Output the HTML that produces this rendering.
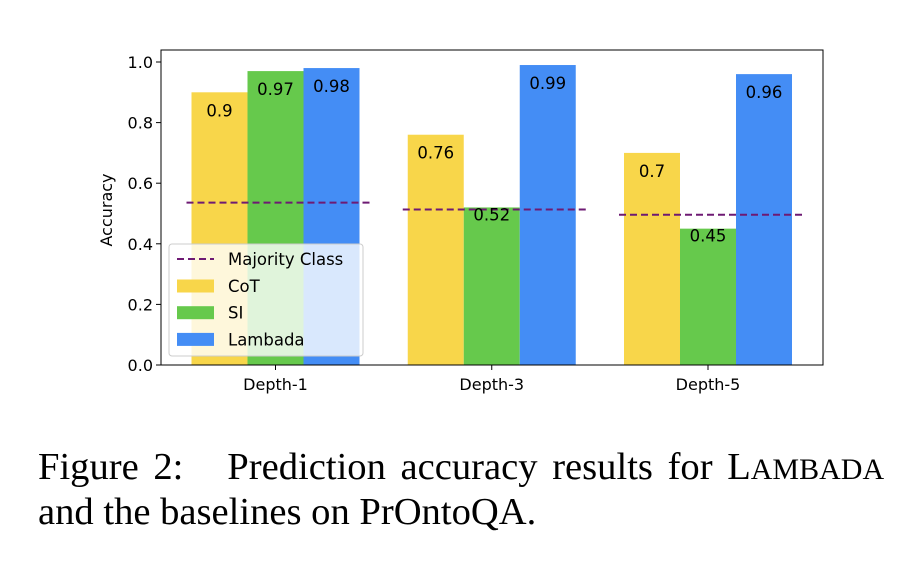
<!DOCTYPE html>
<html><head><meta charset="utf-8">
<style>
html,body{margin:0;padding:0;background:#fff;width:920px;height:572px;overflow:hidden}
svg text{font-family:"DejaVu Sans","Liberation Sans",sans-serif}
.cap{position:absolute;left:38px;font-family:"Liberation Serif",serif;font-size:38.6px;line-height:40px;color:#000;white-space:nowrap}
</style></head>
<body>
<svg id="chart" width="920" height="572" style="position:absolute;left:0;top:0"></svg>
<div class="cap" style="top:447px;word-spacing:5px">Figure 2:&nbsp;&nbsp; Prediction accuracy results for L<span style="font-size:30px">AMBADA</span></div>
<div class="cap" style="top:492px">and the baselines on PrOntoQA.</div>
<script>
const categories = ["Depth-1","Depth-3","Depth-5"];
const cotValues = [0.9, 0.76, 0.7];
const siValues = [0.97, 0.52, 0.45];
const lambadaValues = [0.98, 0.99, 0.96];
const majorityValues = [0.536, 0.513, 0.496];
const yTicks = [0.0, 0.2, 0.4, 0.6, 0.8, 1.0];
const seriesNames = ["CoT","SI","Lambada"];

const NS = "http://www.w3.org/2000/svg";
const svg = document.getElementById("chart");
const L = 161, R = 823, T = 50, B = 365;
const colors = ["#f8d64a","#66c94c","#448df5"];
function y(v){ return B - v * 303; }
function xc(i){ return 275.5 + i * 216.25; }
const barW = 56;
function mk(tag, attrs, parent){ const e = document.createElementNS(NS, tag); for (const k in attrs) e.setAttribute(k, attrs[k]); (parent||svg).appendChild(e); return e; }

const series = [cotValues, siValues, lambadaValues];
series.forEach((vals, s) => {
  vals.forEach((v, i) => {
    const x0 = xc(i) + (s - 1.5) * barW;
    const r = mk("rect", {x: x0, y: y(v), width: barW, height: B - y(v), fill: colors[s]});
    
    
  });
});
majorityValues.forEach((v, i) => {
  const l = mk("line", {x1: xc(i) - 89, x2: xc(i) + 94, y1: y(v), y2: y(v), stroke: "#6e1a73", "stroke-width": 2, "stroke-dasharray": "7,4"});
  
  
});
series.forEach((vals, s) => {
  vals.forEach((v, i) => {
    const x0 = xc(i) + (s - 1.5) * barW + barW / 2;
    const off = v < 0.6 ? 13 : 24;
    const t = mk("text", {x: x0, y: y(v) + off, "text-anchor": "middle", "font-size": 16.5, fill: "#000"});
    t.textContent = String(v);
    
    
  });
});
const fr = mk("rect", {x: L, y: T, width: R - L, height: B - T, fill: "none", stroke: "#000", "stroke-width": 1});


yTicks.forEach(v => {
  mk("line", {x1: L - 5, x2: L, y1: y(v), y2: y(v), stroke: "#000"});
  const t = mk("text", {x: L - 8, y: y(v) + 6, "text-anchor": "end", "font-size": 16, fill: "#000"});
  t.textContent = v.toFixed(1);
  
  
});
categories.forEach((c, i) => {
  mk("line", {x1: xc(i), x2: xc(i), y1: B, y2: B + 5, stroke: "#000"});
  const t = mk("text", {x: xc(i), y: B + 25, "text-anchor": "middle", "font-size": 16, fill: "#000"});
  t.textContent = c;
  
  
});
const yl = mk("text", {x: 0, y: 0, "text-anchor": "middle", "font-size": 16, fill: "#000", transform: "translate(112,210) rotate(-90)"});
yl.textContent = "Accuracy";


const lg = mk("g", {});


mk("rect", {x: 169, y: 244, width: 194, height: 112, rx: 3, fill: "rgba(255,255,255,0.8)", stroke: "#ccc"}, lg);
mk("line", {x1: 177, x2: 214, y1: 259, y2: 259, stroke: "#6e1a73", "stroke-width": 2, "stroke-dasharray": "7,4"}, lg);
const t0 = mk("text", {x: 228, y: 265, "font-size": 16.5, fill: "#000"}, lg);
t0.textContent = "Majority Class";


seriesNames.forEach((n, s) => {
  const cy = 286 + s * 26.7;
  mk("rect", {x: 177, y: cy - 6.5, width: 37, height: 13, fill: colors[s]}, lg);
  const t = mk("text", {x: 228, y: cy + 6, "font-size": 16.5, fill: "#000"}, lg);
  t.textContent = n;
  
  
});
</script>
</body></html>
